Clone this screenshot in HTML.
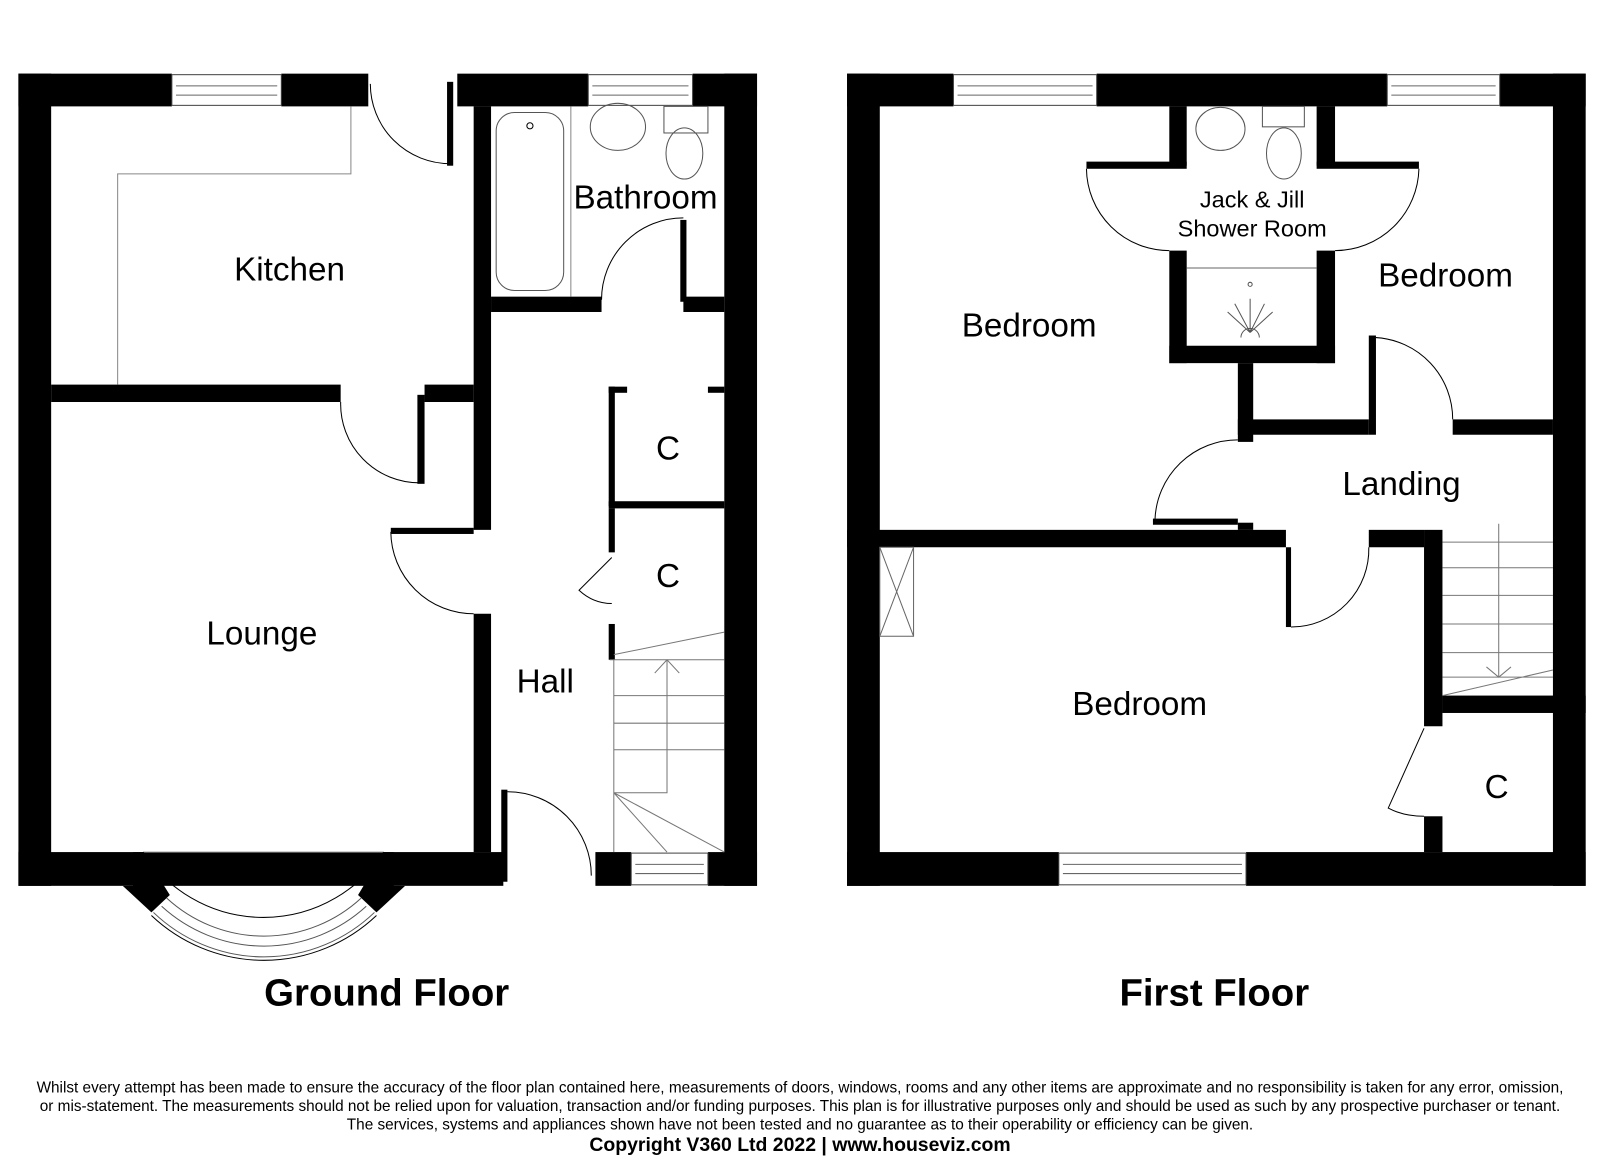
<!DOCTYPE html>
<html><head><meta charset="utf-8"><style>
html,body{margin:0;padding:0;background:#fff;}
svg{display:block;}
text{font-family:"Liberation Sans",Arial,sans-serif;fill:#000;}
</style></head><body>
<svg width="1600" height="1161" viewBox="0 0 1564 1135" preserveAspectRatio="none" xmlns="http://www.w3.org/2000/svg">
<g fill="#000">
<rect x="18" y="72" width="32" height="794"/>
<rect x="18" y="72" width="150" height="32"/>
<rect x="275" y="72" width="85" height="32"/>
<rect x="447" y="72" width="128" height="32"/>
<rect x="677" y="72" width="63" height="32"/>
<rect x="708" y="72" width="32" height="794"/>
<rect x="18" y="833" width="474" height="33"/>
<rect x="582" y="833" width="35" height="33"/>
<rect x="692" y="833" width="48" height="33"/>
<rect x="437" y="80" width="6" height="82"/>
<rect x="463" y="104" width="17" height="414"/>
<rect x="463" y="600" width="17" height="233"/>
<rect x="382" y="516" width="81" height="6"/>
<rect x="50" y="376" width="283" height="17"/>
<rect x="415" y="376" width="48" height="17"/>
<rect x="408" y="386" width="7" height="87"/>
<rect x="480" y="290" width="108" height="15"/>
<rect x="668" y="290" width="40" height="15"/>
<rect x="665" y="215" width="6" height="80"/>
<rect x="595" y="378" width="6" height="117"/>
<rect x="595" y="378" width="18" height="6"/>
<rect x="692" y="378" width="16" height="6"/>
<rect x="595" y="490" width="113" height="7"/>
<rect x="595" y="497" width="6" height="43"/>
<rect x="595" y="610" width="6" height="35"/>
<rect x="490" y="772" width="6" height="90"/>
<polygon points="120,866 148,892 166,875 140,833 130,833 130,866"/>
<polygon points="396,866 368,892 350,875 375,833 385,833 385,866"/>
<rect x="828" y="72" width="32" height="794"/>
<rect x="828" y="72" width="104" height="32"/>
<rect x="1072" y="72" width="284" height="32"/>
<rect x="1466" y="72" width="84" height="32"/>
<rect x="1518" y="72" width="32" height="794"/>
<rect x="828" y="833" width="207" height="33"/>
<rect x="1218" y="833" width="332" height="33"/>
<rect x="1143" y="104" width="17" height="58"/>
<rect x="1287" y="104" width="18" height="58"/>
<rect x="1062" y="158" width="98" height="7"/>
<rect x="1287" y="158" width="100" height="7"/>
<rect x="1143" y="245" width="17" height="110"/>
<rect x="1287" y="245" width="18" height="110"/>
<rect x="1143" y="338" width="162" height="17"/>
<rect x="1210" y="355" width="15" height="77"/>
<rect x="1210" y="410" width="128" height="15"/>
<rect x="1338" y="328" width="7" height="97"/>
<rect x="1420" y="410" width="98" height="15"/>
<rect x="1127" y="507" width="83" height="6"/>
<rect x="1210" y="511" width="15" height="7"/>
<rect x="828" y="518" width="429" height="17"/>
<rect x="1338" y="518" width="54" height="17"/>
<rect x="1257" y="535" width="5" height="78"/>
<rect x="1392" y="518" width="18" height="192"/>
<rect x="1392" y="798" width="18" height="35"/>
<rect x="1410" y="680" width="140" height="17"/>
</g>
<g fill="#fff" stroke="#444" stroke-width="1">
<rect x="168" y="73" width="107" height="30"/>
<rect x="575" y="73" width="102" height="30"/>
<rect x="617" y="834" width="75" height="31"/>
<rect x="932" y="73" width="140" height="30"/>
<rect x="1356" y="73" width="110" height="30"/>
<rect x="1035" y="834" width="183" height="31"/>
</g>
<g stroke="#666" stroke-width="1" fill="none">
<path d="M172 84H271M172 93H271M579 84H673M579 93H673M621 845H688M621 854H688M936 84H1068M936 93H1068M1360 84H1462M1360 93H1462M1039 845H1214M1039 854H1214"/>
</g>
<g stroke="#000" stroke-width="1" fill="none">
<path d="M440 160 A78 78 0 0 1 362 82"/>
<path d="M382 520 A81 81 0 0 0 463 600"/>
<path d="M333 393 A77 77 0 0 0 410 472"/>
<path d="M668 213 A80 80 0 0 0 588 293"/>
<path d="M496 774 A82 82 0 0 1 578 856"/>
<path d="M598 545 L566 577 Q580 590 598 590"/>
<path d="M343 104V170H115V376" stroke="#888"/>
<rect x="485" y="110" width="66" height="174" rx="18" stroke="#555"/>
<circle cx="518" cy="123" r="3"/>
<path d="M558 104V290" stroke="#888"/>
<ellipse cx="604" cy="124" rx="27" ry="23" stroke="#555"/>
<rect x="649" y="104" width="43" height="26" stroke="#555"/>
<ellipse cx="669" cy="150" rx="18" ry="25" stroke="#555"/>
<g stroke="#777">
<path d="M600 640L708 618M596 645H708M600 645V775M600 680H708M600 707H708M600 733H708M600 775H652V645M600 775L652 833M600 775L708 833M600 775V833M640 658L652 645L664 658"/>
</g>
<path d="M140 833H375" stroke="#888"/>
<path d="M140 833 A140 140 0 0 0 375 833"/>
<path d="M163 878 A140 140 0 0 0 353 878" stroke="#555"/>
<path d="M158 886 A148 148 0 0 0 358 886" stroke="#555"/>
<path d="M150 892 A156 156 0 0 0 366 892" stroke="#555"/>
<path d="M148 895 A160 160 0 0 0 368 895"/>
<path d="M1062 165 A81 81 0 0 0 1143 245"/>
<path d="M1387 165 A82 82 0 0 1 1305 245"/>
<path d="M1345 330 A80 80 0 0 1 1420 410"/>
<path d="M1129 508 A81 81 0 0 1 1210 430"/>
<path d="M1262 613 A76 76 0 0 0 1338 535"/>
<path d="M1392 712 L1357 790 Q1372 798 1392 798"/>
<ellipse cx="1193" cy="126" rx="24" ry="21" stroke="#555"/>
<rect x="1234" y="104" width="41" height="20" stroke="#555"/>
<ellipse cx="1255" cy="150" rx="17" ry="25" stroke="#555"/>
<path d="M1160 262H1287" stroke="#666"/>
<g stroke="#555"><circle cx="1222" cy="278" r="2"/>
<path d="M1222 325L1200 305M1222 325L1207 297M1222 325V292M1222 325L1236 297M1222 325L1244 305M1213 330A9 9 0 0 1 1231 330"/></g>
<rect x="860" y="535" width="33" height="87" stroke="#666"/>
<path d="M860 535L893 622M893 535L860 622" stroke="#666"/>
<g stroke="#777">
<path d="M1410 530H1518M1410 555H1518M1410 582H1518M1410 610H1518M1410 638H1518M1410 662H1518M1410 680L1518 655M1465 512V662M1453 652L1465 662L1477 652"/>
</g>
</g>
<g font-size="32.5" text-anchor="middle">
<text x="283" y="274">Kitchen</text>
<text x="631" y="204">Bathroom</text>
<text x="256" y="630">Lounge</text>
<text x="533" y="677">Hall</text>
<text x="653" y="449">C</text>
<text x="653" y="574">C</text>
<text x="1006" y="329">Bedroom</text>
<text x="1413" y="280">Bedroom</text>
<text x="1370" y="484">Landing</text>
<text x="1114" y="699">Bedroom</text>
<text x="1463" y="780">C</text>
</g>
<g font-size="23" text-anchor="middle">
<text x="1224" y="203">Jack &amp; Jill</text>
<text x="1224" y="231">Shower Room</text>
</g>
<g font-size="37.5" font-weight="bold" text-anchor="middle">
<text x="378" y="983">Ground Floor</text>
<text x="1187" y="983">First Floor</text>
</g>
<g font-size="15" text-anchor="middle">
<text x="782" y="1068">Whilst every attempt has been made to ensure the accuracy of the floor plan contained here, measurements of doors, windows, rooms and any other items are approximate and no responsibility is taken for any error, omission,</text>
<text x="782" y="1086">or mis-statement. The measurements should not be relied upon for valuation, transaction and/or funding purposes. This plan is for illustrative purposes only and should be used as such by any prospective purchaser or tenant.</text>
<text x="782" y="1104">The services, systems and appliances shown have not been tested and no guarantee as to their operability or efficiency can be given.</text>
<text x="782" y="1125" font-size="19" font-weight="bold">Copyright V360 Ltd 2022 | www.houseviz.com</text>
</g>
</svg>
</body></html>
